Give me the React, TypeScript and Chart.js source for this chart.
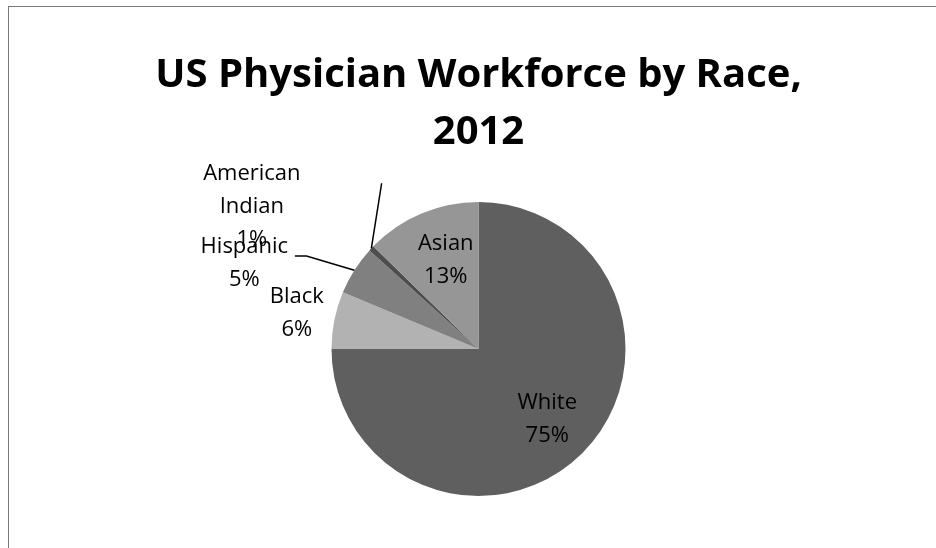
import React, { useEffect, useRef } from "react";
import { Chart, registerables } from "chart.js";

Chart.register(...registerables);

// ---- data ----
const categories = ["White", "Black", "Hispanic", "American Indian", "Asian"];
const categoryLines = [["White"], ["Black"], ["Hispanic"], ["American", "Indian"], ["Asian"]];
const values = [75.0, 6.3, 5.4, 0.6, 12.7];
const sliceColors = ["#5f5f5f", "#b2b2b2", "#808080", "#4d4d4d", "#969696"];
const titleLines = ["US Physician Workforce by Race,", "2012"];

// ---- label layout (radius factor, angle offset in degrees from slice middle) ----
const labelLayout: [number, number][] = [
  [0.67, 0.7],
  [1.259, -0.25],
  [1.696, -12.3],
  [1.82, -11.1],
  [0.645, 2.66],
];
const leaderLayout: ([number, number][] | null)[] = [
  null,
  null,
  [
    [1.4, -5.55],
    [1.33, -4.0],
    [1.0, 0],
  ],
  [
    [1.306, 16.5],
    [1.0, 0],
  ],
  null,
];

const LABEL_FONT = "22px 'Open Sans'";
const LINE_GAP = 33;

const labelPlugin = {
  id: "sliceLabels",
  afterDatasetsDraw(chart: any) {
    const ctx = chart.ctx;
    const meta = chart.getDatasetMeta(0);
    const data = chart.data.datasets[0].data as number[];
    const total = data.reduce((a, b) => a + b, 0);
    ctx.save();
    meta.data.forEach((arc: any, i: number) => {
      const p = arc.getProps(["x", "y", "startAngle", "endAngle", "outerRadius"], true);
      const mid = (p.startAngle + p.endAngle) / 2;
      const r = p.outerRadius;
      const polar = (f: number, deg: number) => {
        const a = mid + (deg * Math.PI) / 180;
        return [p.x + Math.cos(a) * r * f, p.y + Math.sin(a) * r * f];
      };
      const leader = leaderLayout[i];
      if (leader) {
        ctx.beginPath();
        ctx.strokeStyle = "#000";
        ctx.lineWidth = 1.5;
        leader.forEach(([f, d], k) => {
          const [lx, ly] = polar(f, d);
          if (k === 0) ctx.moveTo(lx, ly);
          else ctx.lineTo(lx, ly);
        });
        ctx.stroke();
      }
      const [f, d] = labelLayout[i];
      const [cx, cy] = polar(f, d);
      const lines = [...categoryLines[i], Math.round((data[i] / total) * 100) + "%"];
      ctx.font = LABEL_FONT;
      ctx.fillStyle = "#000";
      ctx.textAlign = "center";
      ctx.textBaseline = "middle";
      const startY = cy - ((lines.length - 1) * LINE_GAP) / 2;
      lines.forEach((t, k) => ctx.fillText(t, cx, startY + k * LINE_GAP));
    });
    ctx.restore();
  },
};

export default function App() {
  const ref = useRef<HTMLCanvasElement>(null);
  useEffect(() => {
    if (!ref.current) return;
    const chart = new Chart(ref.current, {
      type: "pie",
      data: {
        labels: categories,
        datasets: [
          {
            data: values,
            backgroundColor: sliceColors,
            borderWidth: 0,
          },
        ],
      },
      options: {
        responsive: false,
        animation: false,
        layout: { padding: { left: 12, right: 0, top: 0, bottom: 52 } },
        plugins: {
          legend: { display: false },
          tooltip: { enabled: false },
          title: {
            display: true,
            text: titleLines,
            color: "#000",
            font: { family: "'Open Sans'", size: 40, weight: "bold", lineHeight: 1.425 },
            padding: { top: 40, bottom: 41 },
          },
        },
      },
      plugins: [labelPlugin],
    });
    return () => chart.destroy();
  }, []);
  return (
    <div
      style={{
        position: "absolute",
        left: 8,
        top: 6,
        width: 928,
        height: 542,
        boxSizing: "border-box",
        borderTop: "1px solid #7a7a7a",
        borderLeft: "1px solid #7a7a7a",
        background: "#fff",
      }}
    >
      <canvas ref={ref} width={927} height={541} style={{ display: "block" }} />
    </div>
  );
}
